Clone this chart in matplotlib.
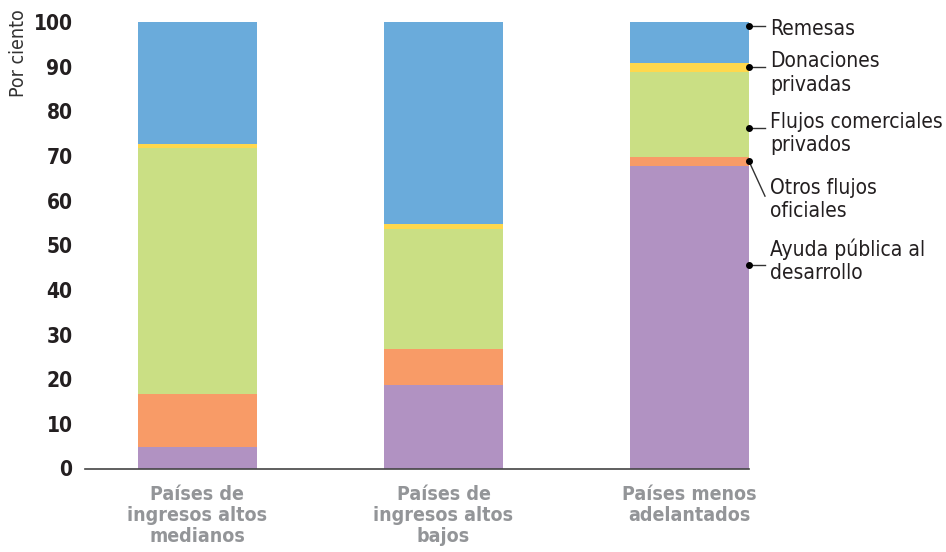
import numpy as np
import matplotlib
matplotlib.use("Agg")
import matplotlib.pyplot as plt

plt.rcParams['font.family'] = ['DejaVu Sans']
plt.rcParams['font.stretch'] = 'condensed'

categories = ['Países de\ningresos altos\nmedianos', 'Países de\ningresos altos\nbajos',
              'Países menos\nadelantados']
series_names = ['Ayuda pública al\ndesarrollo', 'Otros flujos\noficiales',
                'Flujos comerciales\nprivados', 'Donaciones\nprivadas', 'Remesas']
apd = [4.8, 18.7, 67.8]
otros = [11.8, 8.1, 2.0]
flujos = [55.2, 26.8, 19.1]
donaciones = [0.9, 1.2, 2.0]
remesas = [27.3, 45.2, 9.1]
yticks = [0, 10, 20, 30, 40, 50, 60, 70, 80, 90, 100]

colors = ['#b192c2', '#f89b67', '#cadf84', '#ffd84d', '#6aabdb']
values = [apd, otros, flujos, donaciones, remesas]

W, H = 946, 552
fig = plt.figure(figsize=(W / 100, H / 100), dpi=100)
ax = fig.add_axes([85 / W, (H - 468.5) / H, (749 - 85) / W, (468.5 - 22) / H])

x = np.arange(len(categories))
width = 0.484
bottom = np.zeros(len(categories))
for vals, col in zip(values, colors):
    ax.bar(x, vals, width, bottom=bottom, color=col, linewidth=0)
    bottom += np.array(vals)

ax.set_xlim(-0.457, 2.242)
ax.set_ylim(0, 100)
ax.set_yticks(yticks)
ax.set_yticklabels([str(t) for t in yticks], fontsize=15, fontweight='bold', color='#231f20')
ax.set_xticks([])
ax.tick_params(axis='y', length=0, pad=9)
for s in ['top', 'right', 'left']:
    ax.spines[s].set_visible(False)
ax.spines['bottom'].set_color('#444444')
ax.spines['bottom'].set_linewidth(1.2)

for xi, lab in zip(x, categories):
    ax.text(xi, -3.6, lab, ha='center', va='top', fontsize=14, fontweight='bold',
            color='#939598', linespacing=1.15)

fig.text(18 / W, 1 - 9 / H, 'Por ciento', rotation=90, ha='center', va='top',
         fontsize=14, color='#333333', fontweight='light')

# labels on the right of the last bar: (dot y, text y)
label_pos = [(45.6, 47.4), (68.8, 61.0), (76.3, 75.8), (89.9, 89.4), (99.1, 98.8)]
xe = x[-1] + width / 2
for name, (yd, yt) in zip(series_names, label_pos):
    ax.plot([xe, 2.307], [yd, yt if abs(yd - yt) > 3 else yd], color='#333333', lw=1,
            clip_on=False)
    ax.plot([xe], [yd], 'o', color='black', ms=4, clip_on=False)
    ax.text(2.327, yt, name, ha='left', va='center_baseline', fontsize=15,
            color='#231f20', linespacing=1.2, clip_on=False)

fig.savefig('out.png', dpi=100)
